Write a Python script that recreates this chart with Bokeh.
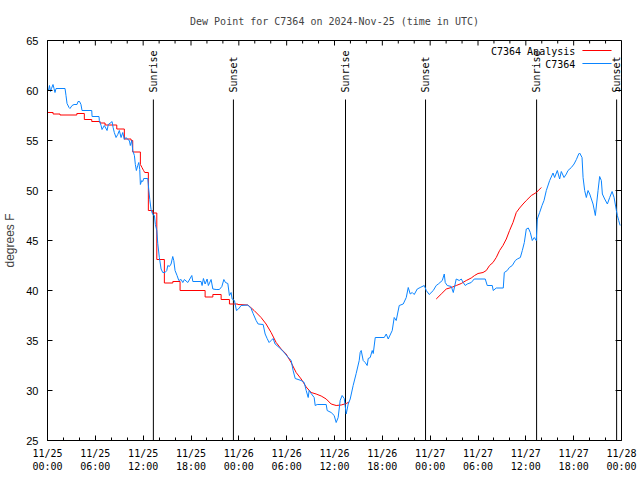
import math
from bokeh.plotting import figure
from bokeh.models import FixedTicker, Label, Range1d, ColumnDataSource
from bokeh.embed import file_html
from bokeh.resources import INLINE
from bokeh.core.properties import value

# ---- data (hours since 2024-11-25 00:00 UTC, dew point in degrees F) ----
obs_hours = [0.00, 0.13, 0.25, 0.38, 0.50, 0.69, 0.82, 0.94, 1.07, 2.20, 2.32, 2.45, 2.70, 2.82,
             3.08, 3.33, 3.70, 3.83, 4.02, 4.20, 4.33, 5.55, 5.59, 6.46, 6.50, 6.72, 6.84, 7.13,
             7.47, 7.63, 7.97, 8.10, 8.23, 8.38, 8.60, 8.81, 9.01, 9.23, 9.44, 9.64, 9.85, 10.07,
             10.27, 10.39, 10.57, 10.69, 10.90, 11.02, 11.15, 11.32, 11.45, 11.57, 11.65, 11.82,
             11.95, 12.07, 12.58, 12.70, 12.83, 12.99, 13.20, 13.41, 13.53, 13.71, 13.83, 14.03,
             14.25, 14.46, 14.75, 14.96, 15.09, 15.29, 15.50, 15.71, 15.84, 16.00, 16.25, 16.47,
             16.76, 16.97, 17.17, 17.60, 18.10, 18.23, 19.27, 19.39, 19.56, 19.77, 20.02, 20.18,
             20.52, 20.74, 21.15, 21.56, 21.87, 22.12, 22.32, 22.62, 22.82, 23.03, 23.16, 23.45,
             23.70, 23.95, 24.29, 25.13, 25.54, 25.79, 26.17, 26.42, 27.05, 27.30, 27.55, 27.80,
             28.05, 28.30, 28.55, 29.06, 29.69, 30.19, 30.57, 30.81, 31.07, 31.82, 32.20, 32.45,
             32.70, 32.82, 33.07, 33.45, 33.58, 33.83, 34.96, 35.08, 35.58, 35.96, 36.21, 36.46,
             36.71, 36.96, 37.22, 37.47, 37.72, 37.97, 38.34, 38.72, 39.10, 39.22, 39.35, 39.60,
             39.85, 40.10, 40.23, 40.48, 40.73, 40.86, 41.11, 42.24, 42.49, 42.74, 43.24, 43.49,
             43.74, 44.12, 44.62, 45.00, 45.25, 45.50, 45.75, 46.00, 46.38, 46.75, 47.26, 47.51,
             47.88, 48.39, 48.76, 49.02, 49.52, 49.77, 49.89, 50.14, 50.65, 50.90, 51.27, 51.65,
             51.90, 52.15, 52.40, 52.65, 53.15, 53.53, 54.91, 55.16, 55.79, 55.91, 56.29, 57.17,
             57.30, 57.67, 57.93, 58.30, 58.68, 58.93, 59.31, 59.56, 59.81, 60.06, 60.31, 60.56,
             60.81, 61.06, 61.31, 61.44, 61.73, 62.03, 62.28, 62.57, 62.99, 63.41, 63.61, 63.95,
             64.24, 64.45, 64.79, 65.08, 65.29, 65.71, 66.05, 66.34, 66.63, 66.75, 67.05, 67.18,
             67.38, 67.59, 67.80, 68.01, 68.43, 68.72, 69.06, 69.26, 69.47, 69.60, 69.89, 70.23,
             70.52, 70.82, 71.07, 71.36, 71.48, 71.65, 71.83]
obs_dewpt = [60.2, 60.0, 60.5, 59.9, 60.2, 60.6, 60.2, 59.8, 60.2, 60.2, 59.5, 58.7, 58.3, 58.2,
             58.5, 58.6, 58.6, 58.9, 58.9, 58.6, 58.0, 58.0, 57.4, 57.4, 57.0, 56.5, 56.1, 56.5,
             56.0, 56.6, 56.8, 56.9, 56.3, 55.8, 55.3, 55.6, 56.0, 55.3, 55.8, 55.1, 55.3, 55.1,
             55.0, 54.5, 55.0, 54.0, 53.5, 52.6, 52.0, 52.5, 52.8, 52.1, 50.6, 51.0,
             50.9, 51.2, 51.2, 50.1, 49.1, 48.1, 47.6, 47.5, 46.6, 46.0, 44.7, 43.3,
             42.15, 41.8, 41.8, 42.0, 42.5, 42.4, 42.65, 43.4, 43.0, 42.0, 41.5, 41.0,
             41.1, 40.8, 41.1, 40.8, 41.5, 40.9, 40.9, 40.5, 41.2, 40.65, 41.15, 40.5,
             41.1, 40.15, 40.1, 40.1, 40.4, 41.1, 40.8, 40.7, 39.5, 39.8, 39.15, 39.0,
             38.0, 38.15, 38.5, 38.55, 38.2, 37.7, 37.0, 36.65, 36.6, 35.65, 35.2, 34.8,
             35.0, 35.2, 34.65, 34.3, 33.8, 33.3, 33.0, 32.0, 31.2, 31.0, 30.8, 30.0,
             29.3, 30.0, 29.7, 29.3, 28.5, 28.6, 28.6, 28.0, 27.8, 27.5, 26.8, 27.3,
             29.0, 29.5, 29.2, 27.65, 28.65, 29.15, 30.5, 31.7, 33.0, 33.8, 34.0, 33.0,
             32.8, 32.5, 33.2, 33.3, 34.0, 33.7, 35.3, 35.3, 35.65, 35.15, 36.0, 37.3,
             37.0, 38.5, 38.65, 39.3, 40.3, 39.65, 39.8, 39.6, 40.15, 40.3, 40.5, 40.0,
             39.6, 40.0, 40.5, 40.65, 41.0, 41.65, 40.8, 40.5, 40.4, 39.8, 41.15, 41.0,
             41.15, 40.8, 40.5, 40.65, 40.8, 41.15, 41.15, 40.5, 40.5, 40.0, 40.25, 40.25,
             41.8, 42.0, 42.3, 42.5, 43.0, 43.15, 43.3, 44.0, 44.8, 46.15, 46.25, 45.8,
             45.0, 45.3, 45.0, 47.15, 47.8, 48.5, 49.0, 50.0, 51.0, 51.75, 51.3, 52.0,
             51.15, 51.9, 51.3, 51.65, 52.0, 52.3, 52.65, 53.1, 53.65, 53.75, 53.3, 51.3,
             50.0, 49.3, 50.0, 49.65, 48.65, 47.5, 50.0, 51.4, 51.0, 49.65, 49.15, 48.65,
             49.3, 49.9, 49.3, 48.0, 47.5, 47.0, 46.5]

ana1_hours = [0.00, 0.70, 0.70, 1.57, 1.57, 3.68, 3.68, 4.62, 4.62, 5.55, 5.55, 6.59, 6.59, 7.22,
              7.22, 8.69, 8.69, 9.64, 9.64, 10.48, 10.48, 10.69, 10.69, 11.65, 11.65, 11.85, 12.05,
              12.20, 12.65, 12.65, 13.20, 13.20, 13.71, 13.71, 14.66, 14.66, 15.72, 15.72, 16.63,
              16.63, 19.77, 19.77, 20.74, 20.74, 21.78, 21.78, 22.82, 22.82, 23.87, 23.87, 25.13,
              25.50, 25.92, 26.79, 27.42, 28.05, 28.68, 29.31, 29.93, 30.56, 31.19, 31.82, 32.45,
              33.07, 33.70, 34.33, 34.96, 35.58, 36.21, 36.84, 37.47, 37.84]
ana1_dewpt = [57.8, 57.8, 57.65, 57.65, 57.55, 57.55, 57.7, 57.7, 57.1, 57.1, 56.9, 56.9, 56.75, 56.75,
              56.55, 56.55, 56.15, 56.15, 55.15, 55.15, 55.0, 55.0, 53.85, 53.85, 52.6, 52.3, 52.0,
              51.8, 51.8, 48.0, 48.0, 47.75, 47.75, 43.1, 43.1, 40.75, 40.75, 40.9, 40.9,
              40.0, 40.0, 39.35, 39.35, 39.6, 39.6, 39.1, 39.1, 38.65, 38.65, 38.6, 38.55,
              38.3, 38.0, 37.3, 36.65, 35.8, 34.8, 34.15, 33.65, 32.8, 31.8, 31.15, 30.35,
              29.8, 29.65, 29.45, 29.15, 28.65, 28.5, 28.55, 28.7, 28.85]

ana2_hours = [48.76, 49.39, 50.02, 50.65, 51.27, 51.90, 52.53, 53.15, 53.57, 54.00, 54.63, 55.04,
              55.45, 55.88, 56.29, 56.71, 57.13, 57.55, 57.96, 58.39, 58.80, 59.22, 59.65, 60.06,
              60.69, 61.32, 61.94]
ana2_dewpt = [39.15, 39.65, 40.15, 40.3, 40.5, 40.7, 41.0, 41.25, 41.5, 41.7, 41.8, 42.0,
              42.5, 42.8, 43.3, 44.0, 44.5, 45.15, 46.0, 46.8, 47.8, 48.25, 48.65, 49.0,
              49.5, 49.8, 50.3]

sun_hours = [13.28, 23.32, 37.38, 47.42, 61.35, 71.39]
sun_labels = ["Sunrise", "Sunset", "Sunrise", "Sunset", "Sunrise", "Sunset"]
sun_line_top = 59.1
sun_text_base = 59.8

tick_hours = list(range(0, 73, 6))
tick_dates = ["11/25"] * 4 + ["11/26"] * 4 + ["11/27"] * 4 + ["11/28"]
tick_times = ["00:00", "06:00", "12:00", "18:00"] * 3 + ["00:00"]
minor_hours = [h for h in range(0, 73, 2) if h % 6 != 0]
y_ticks = [25, 30, 35, 40, 45, 50, 55, 60, 65]

series_names = ["C7364 Analysis", "C7364"]
series_colors = ["#ff0000", "#0a84ff"]

X_MIN, X_MAX, Y_MIN, Y_MAX = 0, 72, 25, 65
MONO = "DejaVu Sans Mono"
SANS = "Liberation Sans"

p = figure(width=640, height=480, output_backend="svg", toolbar_location=None,
           x_range=Range1d(X_MIN, X_MAX), y_range=Range1d(Y_MIN, Y_MAX),
           min_border_left=47, min_border_right=19, min_border_top=40, min_border_bottom=40,
           title="Dew Point for C7364 on 2024-Nov-25 (time in UTC)")
p.background_fill_color = "white"
p.border_fill_color = "white"
p.outline_line_color = "black"
p.outline_line_width = 1
p.grid.visible = False

p.title.text_font = MONO
p.title.text_font_size = "10px"
p.title.text_font_style = "normal"
p.title.align = "center"
p.title.standoff = 27

xt = FixedTicker(ticks=tick_hours, minor_ticks=minor_hours)
yt = FixedTicker(ticks=y_ticks)

xa = p.xaxis[0]
xa.ticker = xt
xa.major_label_overrides = {h: d + "\n" + t for h, d, t in zip(tick_hours, tick_dates, tick_times)}
xa.major_label_text_font = MONO
xa.major_label_text_font_size = "10px"
xa.major_label_standoff = 7
xa.major_tick_in = 5
xa.major_tick_out = 0
xa.minor_tick_in = 3
xa.minor_tick_out = 0

ya = p.yaxis[0]
ya.ticker = yt
ya.major_label_text_font = SANS
ya.major_label_text_font_size = "11px"
ya.major_label_standoff = 9
ya.axis_label = "degrees F"
ya.axis_label_text_font = SANS
ya.axis_label_text_font_size = "12px"
ya.axis_label_text_font_style = "normal"
ya.axis_label_standoff = 6
ya.major_tick_in = 5
ya.major_tick_out = 0
ya.minor_tick_in = 0
ya.minor_tick_out = 0

for ax in [xa, ya]:
    ax.axis_line_color = "black"
    ax.major_tick_line_color = "black"
    ax.minor_tick_line_color = "black"
    ax.major_label_text_color = "black"

# mirrored ticks on top and right edges (gnuplot style)
top_major_len, top_minor_len, right_len = 0.5, 0.3, 0.75
p.segment(x0=tick_hours, y0=[Y_MAX] * len(tick_hours), x1=tick_hours,
          y1=[Y_MAX - top_major_len] * len(tick_hours), line_color="black", line_width=1)
p.segment(x0=minor_hours, y0=[Y_MAX] * len(minor_hours), x1=minor_hours,
          y1=[Y_MAX - top_minor_len] * len(minor_hours), line_color="black", line_width=1)
p.segment(x0=[X_MAX] * len(y_ticks), y0=y_ticks, x1=[X_MAX - right_len] * len(y_ticks),
          y1=y_ticks, line_color="black", line_width=1)

# sunrise / sunset markers
sun_src = ColumnDataSource(dict(x=sun_hours, y0=[Y_MIN] * len(sun_hours),
                                y1=[sun_line_top] * len(sun_hours),
                                yt=[sun_text_base] * len(sun_hours), label=sun_labels))
p.segment(x0="x", y0="y0", x1="x", y1="y1", source=sun_src, line_color="black", line_width=1)
p.text(x="x", y="yt", text="label", source=sun_src, angle=math.pi / 2,
       text_align="left", text_baseline="middle", text_font=value(MONO),
       text_font_size="10px", text_color="black")

# data lines
p.line(ana1_hours, ana1_dewpt, line_color=series_colors[0], line_width=1)
p.line(ana2_hours, ana2_dewpt, line_color=series_colors[0], line_width=1)
p.line(obs_hours, obs_dewpt, line_color=series_colors[1], line_width=1)

# gnuplot-style key (text right-aligned, sample to the right)
key_text_x = 66.2
key_line_x = [67.1, 70.75]
key_rows_y = [63.95, 62.65]
for name, col, yy in zip(series_names, series_colors, key_rows_y):
    p.add_layout(Label(x=key_text_x, y=yy, text=name, text_align="right", text_baseline="middle",
                       text_font=MONO, text_font_size="10px", text_color="black"))
    p.segment(x0=[key_line_x[0]], y0=[yy + 0.05], x1=[key_line_x[1]], y1=[yy + 0.05],
              line_color=col, line_width=1)

open("out.html", "w").write(file_html(p, INLINE))
